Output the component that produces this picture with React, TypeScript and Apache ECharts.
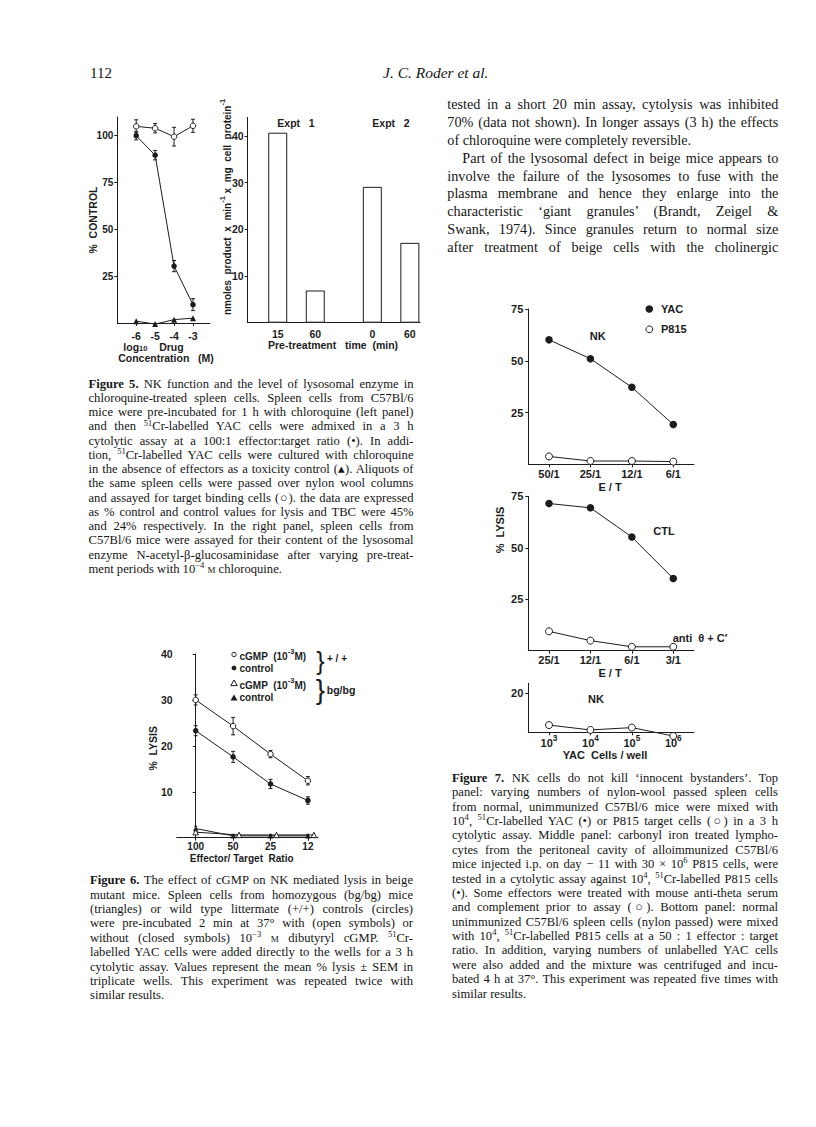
import React, { useEffect, useRef } from "react";
import * as echarts from "echarts";

const SANS = '"Liberation Sans", Arial, Helvetica, sans-serif';
const SERIF = '"Liberation Serif", "Times New Roman", serif';
const INK = "#1c1c1c";

// ---------- Figure 5, left panel: % control vs log10 drug concentration
const f5Conc = [-6, -5, -4, -3];
const f5Lysis = [100, 89.6, 30.4, 9.8];
const f5LysisErr = [2.2, 2.5, 3.0, 3.2];
const f5Tbc = [105, 104, 99.5, 105.3];
const f5TbcErr = [3.5, 2.5, 5.0, 3.5];
const f5Tox = [1.0, -0.6, 1.8, 2.6];
const f5YTicks = [25, 50, 75, 100];

// ---------- Figure 5, right panel: lysosomal enzyme content
const f5BarPos = [1, 2, 3.52, 4.52];
const f5BarLabels = ["15", "60", "0", "60"];
const f5BarValues = [40.7, 6.9, 29.1, 17.1];
const f5BarYTicks = [10, 20, 30, 40];

// ---------- Figure 6: % lysis vs effector/target ratio
const f6Ratios = ["100", "50", "25", "12"];
const f6X = [0, 1, 2, 3];
const f6CgmpWT = [30.0, 24.3, 18.2, 12.4];
const f6CgmpWTErr = [1.1, 1.9, 0.8, 0.9];
const f6CtrlWT = [23.3, 17.6, 11.7, 8.1];
const f6CtrlWTErr = [1.1, 1.2, 1.0, 0.8];
const f6CtrlBgX = [0, 1, 2, 3];
const f6CtrlBg = [2.0, 0.4, 0.4, 0.4];
const f6CtrlBgErr = [0.5, 0.3, 0.3, 0.3];
const f6CgmpBgX = [0, 1.16, 2.16, 3.16];
const f6CgmpBg = [1.2, 0.6, 0.6, 0.6];
const f6YTicks = [10, 20, 30, 40];

// ---------- Figure 7
const f7TopCats = ["50/1", "25/1", "12/1", "6/1"];
const f7TopYAC = [60.1, 51.0, 37.2, 19.2];
const f7TopP815 = [3.8, 1.6, 1.6, 1.3];
const f7MidCats = ["25/1", "12/1", "6/1", "3/1"];
const f7MidCTL = [71.5, 69.4, 55.2, 35.1];
const f7MidAnti = [9.4, 4.9, 1.9, 1.9];
const f7BotExp = ["3", "4", "5", "6"];
const f7BotP815 = [3.7, 1.2, 2.4, -1.9];
const f7YTicks = [25, 50, 75];
const f7BotYTicks = [20];

// ---------- Text
const headerPage = "112";
const headerAuthors = "J. C. Roder et al.";

const bodyRight = [
  "tested in a short 20 min assay, cytolysis was inhibited",
  "70% (data not shown). In longer assays (3 h) the effects",
  "of chloroquine were completely reversible.",
  "Part of the lysosomal defect in beige mice appears to",
  "involve the failure of the lysosomes to fuse with the",
  "plasma membrane and hence they enlarge into the",
  "characteristic ‘giant granules’ (Brandt, Zeigel &",
  "Swank, 1974). Since granules return to normal size",
  "after treatment of beige cells with the cholinergic",
];

const fig5Caption = [
  "**Figure 5.** NK function and the level of lysosomal enzyme in",
  "chloroquine-treated spleen cells. Spleen cells from C57Bl/6",
  "mice were pre-incubated for 1 h with chloroquine (left panel)",
  "and then ^{51}Cr-labelled YAC cells were admixed in a 3 h",
  "cytolytic assay at a 100:1 effector:target ratio (•). In addi-",
  "tion, ^{51}Cr-labelled YAC cells were cultured with chloroquine",
  "in the absence of effectors as a toxicity control (▴). Aliquots of",
  "the same spleen cells were passed over nylon wool columns",
  "and assayed for target binding cells (○). the data are expressed",
  "as % control and control values for lysis and TBC were 45%",
  "and 24% respectively. In the right panel, spleen cells from",
  "C57Bl/6 mice were assayed for their content of the lysosomal",
  "enzyme N-acetyl-β-glucosaminidase after varying pre-treat-",
  "ment periods with 10^{−4} ~{m} chloroquine.",
];

const fig6Caption = [
  "**Figure 6.** The effect of cGMP on NK mediated lysis in beige",
  "mutant mice. Spleen cells from homozygous (bg/bg) mice",
  "(triangles) or wild type littermate (+/+) controls (circles)",
  "were pre-incubated 2 min at 37° with (open symbols) or",
  "without (closed symbols) 10^{−3} ~{m} dibutyryl cGMP. ^{51}Cr-",
  "labelled YAC cells were added directly to the wells for a 3 h",
  "cytolytic assay. Values represent the mean % lysis ± SEM in",
  "triplicate wells. This experiment was repeated twice with",
  "similar results.",
];

const fig7Caption = [
  "**Figure 7.** NK cells do not kill ‘innocent bystanders’. Top",
  "panel: varying numbers of nylon-wool passed spleen cells",
  "from normal, unimmunized C57Bl/6 mice were mixed with",
  "10^{4}, ^{51}Cr-labelled YAC (•) or P815 target cells (○) in a 3 h",
  "cytolytic assay. Middle panel: carbonyl iron treated lympho-",
  "cytes from the peritoneal cavity of alloimmunized C57Bl/6",
  "mice injected i.p. on day − 11 with 30 × 10^{6} P815 cells, were",
  "tested in a cytolytic assay against 10^{4}, ^{51}Cr-labelled P815 cells",
  "(•). Some effectors were treated with mouse anti-theta serum",
  "and complement prior to assay (○). Bottom panel: normal",
  "unimmunized C57Bl/6 spleen cells (nylon passed) were mixed",
  "with 10^{4}, ^{51}Cr-labelled P815 cells at a 50 : 1 effector : target",
  "ratio. In addition, varying numbers of unlabelled YAC cells",
  "were also added and the mixture was centrifuged and incu-",
  "bated 4 h at 37°. This experiment was repeated five times with",
  "similar results.",
];

// ---------- helpers
const pts = (xs: number[], ys: number[]) => xs.map((x, i) => [x, ys[i]]);
const errs = (xs: number[], ys: number[], es: number[]) =>
  xs.map((x, i) => [x, ys[i] - es[i], ys[i] + es[i]]);

const lineStyle = { color: INK, width: 1 };

const lab = (size: number, margin: number, extra: any = {}) => ({
  show: true,
  color: INK,
  fontFamily: SANS,
  fontWeight: "bold",
  fontSize: size,
  margin,
  ...extra,
});

const richTok = (size: number, lh: number, va: string) => ({
  fontSize: size,
  fontFamily: SANS,
  fontWeight: "bold",
  color: INK,
  fill: INK,
  lineHeight: lh,
  verticalAlign: va,
});

function valueY(gridIndex: number, min: number, max: number, ticks: number[], size = 10, margin = 5) {
  return {
    gridIndex,
    type: "value",
    min,
    max,
    axisLine: { show: true, lineStyle },
    axisTick: { show: true, customValues: ticks, length: 3, lineStyle },
    axisLabel: lab(size, margin, { customValues: ticks, formatter: (v: number) => String(v) }),
    splitLine: { show: false },
  };
}

function errorSeries(xi: number, yi: number, data: number[][], cap = 2) {
  return {
    type: "custom",
    xAxisIndex: xi,
    yAxisIndex: yi,
    clip: false,
    silent: true,
    z: 1,
    encode: { x: 0, y: [1, 2] },
    data,
    renderItem: (_p: any, api: any) => {
      const x = api.value(0);
      const lo = api.coord([x, api.value(1)]);
      const hi = api.coord([x, api.value(2)]);
      const st = { stroke: INK, lineWidth: 1 };
      return {
        type: "group",
        children: [
          { type: "line", shape: { x1: lo[0], y1: lo[1], x2: hi[0], y2: hi[1] }, style: st },
          { type: "line", shape: { x1: hi[0] - cap, y1: hi[1], x2: hi[0] + cap, y2: hi[1] }, style: st },
          { type: "line", shape: { x1: lo[0] - cap, y1: lo[1], x2: lo[0] + cap, y2: lo[1] }, style: st },
        ],
      };
    },
  };
}

function lineSeries(xi: number, yi: number, data: any[], symbol: string, size: number, filled: boolean) {
  return {
    type: "line",
    xAxisIndex: xi,
    yAxisIndex: yi,
    data,
    symbol,
    symbolSize: size,
    showSymbol: true,
    clip: false,
    z: 3,
    silent: true,
    lineStyle: { color: INK, width: 1 },
    itemStyle: filled
      ? { color: INK, borderColor: INK, borderWidth: 0 }
      : { color: "#fff", borderColor: INK, borderWidth: 1 },
    emphasis: { disabled: true },
  };
}

function txt(x: number, y: number, text: string, size = 10.5, opts: any = {}) {
  const { rich, rotation, align = "center", weight = "bold", family = SANS } = opts;
  return {
    type: "text",
    x,
    y,
    rotation: rotation || 0,
    silent: true,
    style: {
      text,
      fill: INK,
      fontSize: size,
      fontFamily: family,
      fontWeight: weight,
      align,
      textAlign: align,
      verticalAlign: "middle",
      textVerticalAlign: "middle",
      rich,
    },
  };
}

const supRich = (size: number) => ({
  n: richTok(size, 14, "bottom"),
  s: richTok(size * 0.75, 6, "top"),
  b: richTok(size * 0.72, 6, "bottom"),
});

function buildOption() {
  const catX = (gridIndex: number, cats: string[], margin: number, formatter?: any, rich?: any) => ({
    gridIndex,
    type: "category",
    data: cats,
    boundaryGap: true,
    axisLine: { show: true, lineStyle },
    axisTick: { show: true, alignWithLabel: true, interval: 0, length: 3, lineStyle },
    axisLabel: lab(11, margin, formatter ? { interval: 0, formatter, rich } : { interval: 0 }),
    splitLine: { show: false },
  });

  const grid = [
    { left: 117.3, top: 117, width: 92.7, height: 206 },
    { left: 247.7, top: 117.3, width: 172.3, height: 205.4 },
    { left: 176.7, top: 654, width: 141.3, height: 183.7 },
    { left: 528.3, top: 309, width: 165.7, height: 155.3 },
    { left: 528.3, top: 496.3, width: 165.7, height: 154.4 },
    { left: 528.3, top: 683.3, width: 165.7, height: 49 },
  ].map((g) => ({ ...g, containLabel: false, outerBoundsMode: "none", show: false }));

  const xAxis = [
    {
      gridIndex: 0,
      type: "value",
      min: -7,
      max: -2.1,
      axisLine: { show: true, lineStyle },
      axisTick: { show: true, customValues: f5Conc, length: 3, lineStyle },
      axisLabel: lab(10.5, 7, { customValues: f5Conc, formatter: (v: number) => String(v) }),
      splitLine: { show: false },
    },
    {
      gridIndex: 1,
      type: "value",
      min: 0.2,
      max: 4.79,
      axisLine: { show: true, lineStyle },
      axisTick: { show: false },
      axisLabel: lab(10.5, 5.5, {
        customValues: f5BarPos,
        formatter: (v: number) => f5BarLabels[f5BarPos.indexOf(v)] ?? "",
      }),
      splitLine: { show: false },
    },
    {
      gridIndex: 2,
      type: "value",
      min: -0.508,
      max: 3.27,
      axisLine: { show: true, lineStyle },
      axisTick: { show: true, customValues: f6X, length: 3, lineStyle },
      axisLabel: lab(10, 4, { customValues: f6X, formatter: (v: number) => f6Ratios[f6X.indexOf(v)] ?? "" }),
      splitLine: { show: false },
    },
    catX(3, f7TopCats, 4),
    catX(4, f7MidCats, 4),
    catX(5, f7BotExp, 2, (v: string) => `{n|10}{s|${v}}`, supRich(11)),
  ];

  const yAxis = [
    valueY(0, 0, 110, f5YTicks, 10, 4),
    valueY(1, 0, 44, f5BarYTicks, 10.5, 4),
    valueY(2, 0, 40, f6YTicks, 10.5, 4),
    valueY(3, 0, 75, f7YTicks, 11, 5),
    valueY(4, 0, 75, f7YTicks, 11, 5),
    valueY(5, 0, 25, f7BotYTicks, 11, 5),
  ];

  const series: any[] = [
    // Figure 5 left
    errorSeries(0, 0, errs(f5Conc, f5Lysis, f5LysisErr)),
    errorSeries(0, 0, errs(f5Conc, f5Tbc, f5TbcErr)),
    lineSeries(0, 0, pts(f5Conc, f5Lysis), "circle", 5.5, true),
    lineSeries(0, 0, pts(f5Conc, f5Tbc), "circle", 5.5, false),
    lineSeries(0, 0, pts(f5Conc, f5Tox), "triangle", 6, true),
    // Figure 5 right
    {
      type: "bar",
      xAxisIndex: 1,
      yAxisIndex: 1,
      data: pts(f5BarPos, f5BarValues),
      barWidth: 19,
      silent: true,
      itemStyle: { color: "#fff", borderColor: INK, borderWidth: 1 },
    },
    // Figure 6
    errorSeries(2, 2, errs(f6X, f6CgmpWT, f6CgmpWTErr)),
    errorSeries(2, 2, errs(f6X, f6CtrlWT, f6CtrlWTErr)),
    errorSeries(2, 2, errs(f6CtrlBgX, f6CtrlBg, f6CtrlBgErr), 1.5),
    lineSeries(2, 2, pts(f6X, f6CgmpWT), "circle", 5.5, false),
    lineSeries(2, 2, pts(f6X, f6CtrlWT), "circle", 5.5, true),
    lineSeries(2, 2, pts(f6CtrlBgX, f6CtrlBg), "triangle", 5.5, true),
    lineSeries(2, 2, pts(f6CgmpBgX, f6CgmpBg), "triangle", 5.5, false),
    // Figure 7
    lineSeries(3, 3, f7TopYAC, "circle", 7.5, true),
    lineSeries(3, 3, f7TopP815, "circle", 7, false),
    lineSeries(4, 4, f7MidCTL, "circle", 7.5, true),
    lineSeries(4, 4, f7MidAnti, "circle", 7, false),
    lineSeries(5, 5, f7BotP815, "circle", 7, false),
  ];

  const r10 = supRich(10);
  const r105 = supRich(10.5);
  const graphic: any[] = [
    // Figure 5 left axis names
    txt(93, 220, "%  CONTROL", 10.5, { rotation: Math.PI / 2 }),
    txt(153.5, 345, "{n|log}{b|10}{n|    Drug}", 10.5, { rich: r105 }),
    txt(166, 358, "Concentration   (M)", 10.5),
    // Figure 5 right
    txt(225, 207, "{n|nmoles  product  x  min}{s|-1}{n| x  mg  cell  protein}{s|-1}", 10, {
      rotation: Math.PI / 2,
      rich: r10,
    }),
    txt(296, 123, "Expt   1", 10.5),
    txt(391, 123, "Expt   2", 10.5),
    txt(333, 345, "Pre-treatment   time  (min)", 10.5),
    // Figure 6
    txt(153.3, 748.3, "%  LYSIS", 10.5, { rotation: Math.PI / 2 }),
    txt(241.7, 858.3, "Effector/ Target  Ratio", 10),
    { type: "circle", silent: true, shape: { cx: 234, cy: 654.5, r: 2.2 }, style: { fill: "#fff", stroke: INK, lineWidth: 1 } },
    { type: "circle", silent: true, shape: { cx: 234, cy: 668, r: 2.4 }, style: { fill: INK } },
    { type: "polygon", silent: true, shape: { points: [[234, 680], [237.2, 685.6], [230.8, 685.6]] }, style: { fill: "#fff", stroke: INK, lineWidth: 1 } },
    { type: "polygon", silent: true, shape: { points: [[234, 694.5], [237.5, 700.5], [230.5, 700.5]] }, style: { fill: INK } },
    txt(239.5, 654.5, "{n|cGMP  (10}{s|-3}{n|M)}", 10, { align: "left", rich: r10 }),
    txt(239.5, 668, "control", 10, { align: "left" }),
    txt(239.5, 683, "{n|cGMP  (10}{s|-3}{n|M)}", 10, { align: "left", rich: r10 }),
    txt(239.5, 697.5, "control", 10, { align: "left" }),
    txt(320.5, 661, "}", 25, { weight: "normal" }),
    txt(320.5, 689.5, "}", 28, { weight: "normal" }),
    txt(337, 658.5, "+ / +", 10),
    txt(341, 690, "bg/bg", 10.5),
    // Figure 7 legend and labels
    { type: "circle", silent: true, shape: { cx: 649.3, cy: 309, r: 3.8 }, style: { fill: INK } },
    { type: "circle", silent: true, shape: { cx: 649.3, cy: 329.3, r: 3.4 }, style: { fill: "#fff", stroke: INK, lineWidth: 1 } },
    txt(661, 309, "YAC", 11, { align: "left" }),
    txt(661, 329.3, "P815", 11, { align: "left" }),
    txt(597.7, 335.7, "NK", 11),
    txt(610, 486.7, "E / T", 11),
    txt(500, 530, "%  LYSIS", 11, { rotation: Math.PI / 2 }),
    txt(664, 531, "CTL", 11),
    txt(700, 637.7, "anti  θ + C′", 11),
    txt(610, 672.7, "E / T", 11),
    txt(596, 699, "NK", 11),
    txt(605, 755, "YAC  Cells / well", 11),
  ];

  return {
    animation: false,
    backgroundColor: "#fff",
    textStyle: { fontFamily: SANS },
    grid,
    xAxis,
    yAxis,
    series,
    graphic,
  };
}

function renderMarkup(s: string) {
  const parts = s.split(/(\*\*[^*]+\*\*|\^\{[^}]+\}|~\{[^}]+\})/);
  return parts.map((p, i) => {
    if (p.startsWith("**")) return <b key={i}>{p.slice(2, -2)}</b>;
    if (p.startsWith("^{"))
      return (
        <span key={i} style={{ fontSize: "0.68em", position: "relative", top: "-0.55em", lineHeight: 0 }}>
          {p.slice(2, -1)}
        </span>
      );
    if (p.startsWith("~{"))
      return (
        <span key={i} style={{ fontVariant: "small-caps" }}>
          {p.slice(2, -1)}
        </span>
      );
    return <React.Fragment key={i}>{p}</React.Fragment>;
  });
}

function TextLines(props: {
  lines: string[];
  x: number;
  y0: number;
  dy: number;
  w: number;
  size: number;
  ragged: number[];
  indent?: Record<number, number>;
}) {
  const { lines, x, y0, dy, w, size, ragged, indent = {} } = props;
  return (
    <>
      {lines.map((ln, i) => {
        const ind = indent[i] || 0;
        const cy = y0 + i * dy;
        return (
          <div
            key={i}
            style={{
              position: "absolute",
              left: x + ind,
              top: cy - dy / 2 - 0.1 * size,
              width: w - ind,
              height: dy,
              lineHeight: `${dy}px`,
              fontSize: size,
              fontFamily: SERIF,
              color: "#151515",
              whiteSpace: "nowrap",
              textAlign: "justify",
              textAlignLast: ragged.includes(i) ? "left" : "justify",
            }}
          >
            {renderMarkup(ln)}
          </div>
        );
      })}
    </>
  );
}

export default function App() {
  const ref = useRef<HTMLDivElement>(null);
  useEffect(() => {
    if (!ref.current) return;
    const chart = echarts.init(ref.current, null, { renderer: "svg" });
    chart.setOption(buildOption() as any);
    return () => chart.dispose();
  }, []);

  return (
    <div
      style={{
        position: "absolute",
        left: 0,
        top: 0,
        width: 816,
        height: 1127,
        background: "#fff",
        overflow: "hidden",
      }}
    >
      <div ref={ref} style={{ position: "absolute", left: 0, top: 0, width: 816, height: 1127 }} />
      <div
        style={{
          position: "absolute",
          left: 90,
          top: 64,
          fontFamily: SERIF,
          fontSize: 15,
          lineHeight: "18px",
          color: "#151515",
        }}
      >
        {headerPage}
      </div>
      <div
        style={{
          position: "absolute",
          left: 383,
          top: 64,
          fontFamily: SERIF,
          fontSize: 15.5,
          fontStyle: "italic",
          lineHeight: "18px",
          color: "#151515",
        }}
      >
        {headerAuthors}
      </div>
      <TextLines lines={bodyRight} x={447.3} y0={106.7} dy={17.8} w={331} size={14.2} ragged={[2]} indent={{ 3: 15 }} />
      <TextLines lines={fig5Caption} x={88.5} y0={385} dy={14.25} w={325} size={12.6} ragged={[13]} />
      <TextLines lines={fig6Caption} x={90} y0={881.7} dy={14.4} w={323} size={12.6} ragged={[8]} />
      <TextLines lines={fig7Caption} x={452} y0={779.3} dy={14.38} w={326} size={12.6} ragged={[15]} />
    </div>
  );
}
